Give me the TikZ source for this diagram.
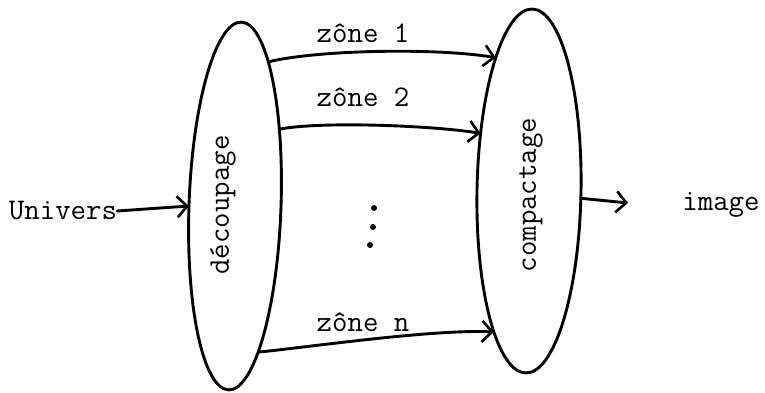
\documentclass[tikz,border=0pt]{standalone}
\usepackage{fontspec}
\usetikzlibrary{shapes.geometric,arrows.meta}
\begin{document}
\begin{tikzpicture}[x=1pt,y=-1pt,
  blob/.style={ellipse,draw,line width=2.9pt,inner sep=0pt,outer sep=0pt},
  conn/.style={line width=2.9pt,line cap=round,
    -{Straight Barb[length=10pt,width=21pt,line width=2.6pt]}},
  lab/.style={font=\fontsize{30}{34}\selectfont\ttfamily,inner sep=0pt},
  inlab/.style={lab,rotate=90},
  dotn/.style={circle,fill,inner sep=0pt,minimum size=6pt}]
\useasboundingbox (0,0) rectangle (765,393);
% blobs
\node[blob,minimum width=92pt,minimum height=368pt,rotate=-2] (L) at (235,206) {};
\node[blob,minimum width=104pt,minimum height=364pt,rotate=-1] (R) at (529,191) {};
% texts
\node[inlab] (tL) at (223,205) {découpage};
\node[inlab] (tR) at (531,195) {compactage};
\node[lab] (U) at (63,211) {Univers};
\node[lab] (I) at (721,205) {image};
\node[lab] (z1) at (363,33) {zône 1};
\node[lab] (z2) at (363,97) {zône 2};
\node[lab] (zn) at (363,322) {zône n};
% dots
\node[dotn] (d1) at (374,208) {};
\node[dotn] (d2) at (373,227) {};
\node[dotn] (d3) at (370,245) {};
\coordinate (imgend) at (628,203);
% connectors
\draw[conn] (U.east) -- (L.182);
\draw[conn] (L.79) .. controls +(50,-12) and +(-60,-10) .. (R.105);
\draw[conn] (L.62) .. controls +(40,-8) and +(-50,-8) .. (R.131);
\draw[conn] (L.281) .. controls +(50,-5) and +(-60,-3) .. (R.257);
\draw[conn] (R.353) -- (imgend);
\end{tikzpicture}
\end{document}
